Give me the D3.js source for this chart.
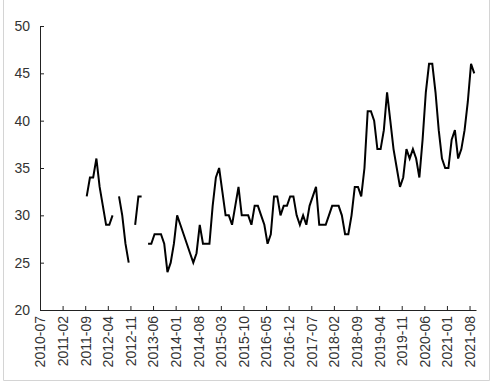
<!DOCTYPE html>
<html><head><meta charset="utf-8">
<script src="https://cdn.jsdelivr.net/npm/d3@7"></script>
<style>html,body{margin:0;padding:0;background:#fff}svg{display:block}</style>
</head><body><svg id="c" width="495" height="387"></svg>
<script>
// Monthly categories start at 2010-07
const startMonth = "2010-07";
const tickLabels = ["2010-07","2011-02","2011-09","2012-04","2012-11","2013-06","2014-01","2014-08","2015-03","2015-10","2016-05","2016-12","2017-07","2018-02","2018-09","2019-04","2019-11","2020-06","2021-01","2021-08"];
const yTicks = [20,25,30,35,40,45,50];
// values per month from 2010-07 (null = no data)
const values = [
 null,null,null,null,null,null,null,null,null,null,null,null,null,null,
 32,34,34,36,33,31,29,29,30,
 null,
 32,30,27,25,
 null,
 29,32,32,
 null,
 27,27,28,28,28,27,24,25,27,30,29,28,27,26,25,26,29,27,27,27,31,34,35,
 32.5,30,30,29,31,33,30,30,30,29,31,31,30,29,27,28,32,32,30,31,31,32,32,30,29,30,29,31,
 32,33,29,29,29,30,31,31,31,30,28,28,30,33,33,32,35,41,41,40,37,37,39,43,
 40,37,35,33,34,37,36,37,36,34,38,43,46,46,43,39,36,35,35,38,39,36,37,39,42,46,45
];
const nCats = 136;

(function(){
const parse = d3.timeParse("%Y-%m");
const fmt = d3.timeFormat("%Y-%m");
const t0 = parse(startMonth);
const months = d3.range(nCats).map(i => fmt(d3.timeMonth.offset(t0, i)));
const data = values.map((v, i) => ({m: months[i], i, v}));

const svg = d3.select("#c");
const mLeft = 40, mRight = 476, mTop = 26, mBottom = 310;
const x = d3.scaleLinear().domain([0, nCats - 1]).range([mLeft, mRight]);
const y = d3.scaleLinear().domain([20, 50]).range([mBottom, mTop]);

// frame
svg.append("path").attr("d", "M3.5,0 V380.5 H489.5 V0").attr("fill","none").attr("stroke","#d4d4d4").attr("stroke-width",1);

const tickIdx = tickLabels.map(l => months.indexOf(l));

// y axis
const yAxis = svg.append("g").attr("transform", `translate(${mLeft},0)`)
  .call(d3.axisRight(y).tickValues(yTicks).tickSize(4).tickFormat(d3.format("d")));
yAxis.select(".domain").attr("stroke","#222");
yAxis.selectAll(".tick line").attr("stroke","#222");
yAxis.selectAll(".tick text").attr("x", -10).attr("text-anchor","end")
  .attr("font-family","Liberation Sans, Arial, sans-serif").attr("font-size",14).attr("fill","#333");

// x axis
const xAxis = svg.append("g").attr("transform", `translate(0,${mBottom})`)
  .call(d3.axisTop(x).tickValues(tickIdx).tickSize(4).tickSizeOuter(0).tickFormat(i => months[i]));
xAxis.select(".domain").attr("stroke","#222");
xAxis.selectAll(".tick line").attr("stroke","#222");
xAxis.selectAll(".tick text")
  .attr("transform","rotate(-90)")
  .attr("x", -6).attr("y", 0).attr("dy","0.35em")
  .attr("text-anchor","end")
  .attr("font-family","Liberation Sans, Arial, sans-serif").attr("font-size",14).attr("fill","#333");

// line
const line = d3.line().defined(d => d.v != null).x(d => x(d.i) + 1.5).y(d => y(d.v));
svg.append("path").datum(data).attr("d", line)
  .attr("fill","none").attr("stroke","#000").attr("stroke-width",2).attr("stroke-linejoin","miter");
})();
</script></body></html>
